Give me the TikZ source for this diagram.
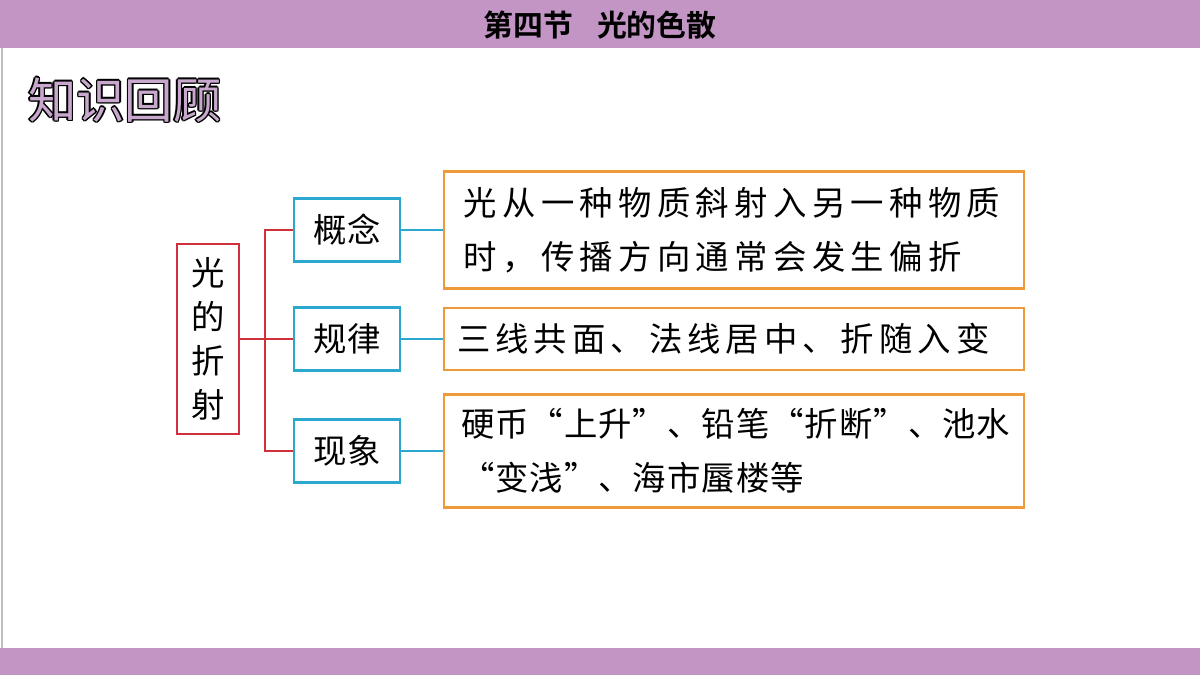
\documentclass[tikz,border=0pt]{standalone}
\usepackage{fontspec}
\newfontfamily\cjk{Noto Sans CJK SC}
\newfontfamily\cjkb{Noto Sans CJK SC Bold}
\definecolor{barpurple}{HTML}{C295C5}
\definecolor{titlefill}{HTML}{C8A8CC}
\definecolor{linered}{HTML}{D0303A}
\definecolor{lineblue}{HTML}{2AA8D0}
\definecolor{lineorange}{HTML}{EE9A3A}
\newlength\px
\setlength\px{0.2mm}
\tikzset{
  rootbox/.style={draw=linered,line width=1.2pt,minimum width=62\px,minimum height=190\px,inner sep=0pt,font=\cjk\fontsize{19}{25}\selectfont,align=center},
  topicbox/.style={draw=lineblue,line width=1.2pt,minimum width=106\px,minimum height=63\px,inner sep=0pt,font=\cjk\fontsize{19}{22}\selectfont},
  notebox/.style={draw=lineorange,line width=1.2pt,anchor=west,minimum width=580\px,inner sep=0pt,font=\cjk\fontsize{19}{31}\selectfont,align=left},
  redline/.style={linered,line width=1.2pt},
  blueline/.style={lineblue,line width=1.2pt}
}
\begin{document}
\begin{tikzpicture}[x=0.02cm,y=-0.02cm]
  \useasboundingbox (0,0) rectangle (1200,675);
  \fill[white] (0,0) rectangle (1200,675);
  \fill[barpurple] (0,0) rectangle (1200,48);
  \fill[barpurple] (0,648) rectangle (1200,675);
  \draw[black!25,line width=0.8pt] (2,48) -- (2,648);
  \node (title) at (600,25) {\cjkb\fontsize{17}{20}\selectfont 第四节\hspace{0.8em}光的色散};
  % heading with outline
  \foreach \dx/\dy in {-1.5/0,1.5/0,0/-1.5,0/1.5,-1.1/-1.1,1.1/1.1,-1.1/1.1,1.1/-1.1}
    \node[anchor=west,text=black] at (22+\dx,100+\dy) {\cjk\fontsize{27.5}{30}\selectfont 知识回顾};
  \node[anchor=west,text=titlefill] (heading) at (22,100) {\cjk\fontsize{27.5}{30}\selectfont 知识回顾};
  % tree
  \node[rootbox] (root) at (208,339) {光\\的\\折\\射};
  \node[topicbox] (concept) at (347,230) {概念};
  \node[topicbox] (rule) at (347,339) {规律};
  \node[topicbox] (scene) at (347,451) {现象};
  \node[notebox,minimum height=117\px,text width=565\px] (cnote) at (443,230)
    {\hspace*{12\px}\addfontfeature{LetterSpace=16}光从一种物质斜射入另一种物质\\\hspace*{12\px}\addfontfeature{LetterSpace=16}时，传播方向通常会发生偏折};
  \node[notebox,minimum height=62\px,text width=570\px] (rnote) at (443,339)
    {\hspace*{8\px}\addfontfeature{LetterSpace=15}三线共面、法线居中、折随入变};
  \node[notebox,minimum height=113\px,text width=570\px] (snote) at (443,451)
    {\hspace*{12\px}\addfontfeature{LetterSpace=3}硬币“上升”、铅笔“折断”、池水\\\hspace*{12\px}\addfontfeature{LetterSpace=3}“变浅”、海市蜃楼等};
  \coordinate (fork) at (265,339);
  \draw[redline] (root.east) -- (fork);
  \draw[redline] (concept.west) -| (fork) |- (scene.west);
  \draw[redline] (fork) -- (rule.west);
  \draw[blueline] (concept.east) -- (cnote.west);
  \draw[blueline] (rule.east) -- (rnote.west);
  \draw[blueline] (scene.east) -- (snote.west);
\end{tikzpicture}
\end{document}
